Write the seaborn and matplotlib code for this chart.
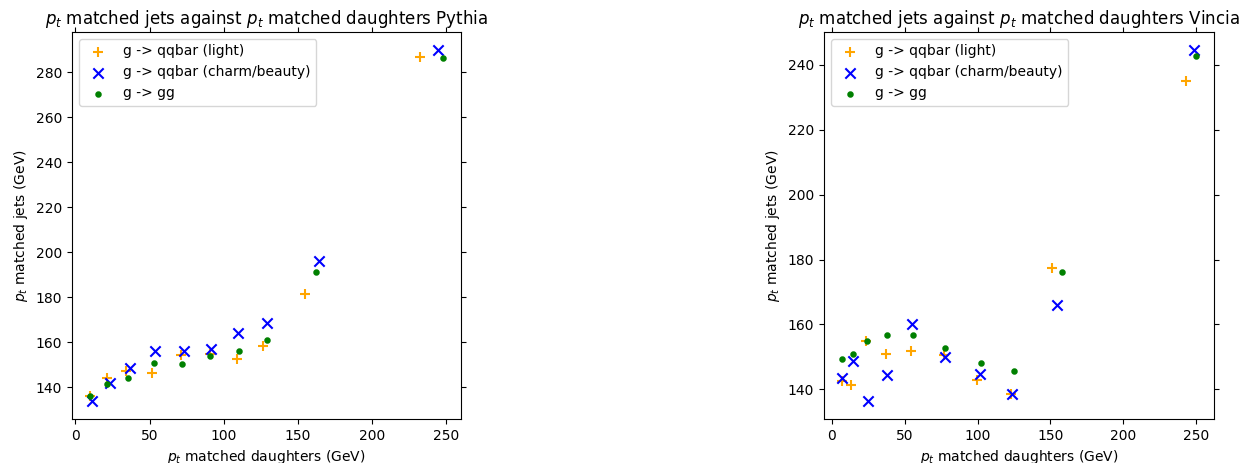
import matplotlib
matplotlib.use("Agg")
import matplotlib.pyplot as plt
import seaborn as sns
import pandas as pd

# Pythia: pt of matched daughters (x) vs pt of matched jets (y)
pythia_light_x = [9.6, 21.3, 34.3, 51.6, 71.3, 90.8, 109.0, 126.7, 155.1, 232.7]
pythia_light_y = [136.0, 144.2, 147.5, 146.4, 154.5, 155.0, 152.5, 158.2, 181.3, 286.7]
pythia_heavy_x = [11.2, 23.1, 37.0, 54.0, 73.5, 91.5, 109.4, 129.1, 164.3, 244.6]
pythia_heavy_y = [133.8, 141.8, 148.7, 156.4, 156.4, 157.2, 164.2, 168.6, 196.0, 290.1]
pythia_gg_x = [9.9, 21.5, 35.6, 52.7, 72.2, 91.0, 110.1, 129.1, 162.1, 248.2]
pythia_gg_y = [136.3, 141.5, 144.3, 150.7, 150.3, 153.9, 156.0, 161.0, 191.4, 286.4]

# Vincia
vincia_light_x = [6.9, 13.5, 23.3, 37.3, 54.2, 77.1, 99.5, 123.0, 151.4, 242.7]
vincia_light_y = [142.6, 141.3, 155.0, 150.8, 151.9, 150.5, 142.9, 138.6, 177.3, 235.0]
vincia_heavy_x = [7.3, 14.4, 24.9, 38.0, 55.3, 78.0, 101.5, 123.7, 154.6, 248.6]
vincia_heavy_y = [143.4, 148.6, 136.3, 144.3, 160.0, 150.1, 144.6, 138.5, 166.1, 244.7]
vincia_gg_x = [7.1, 14.4, 24.2, 38.0, 56.0, 78.0, 102.2, 125.1, 157.6, 250.0]
vincia_gg_y = [149.3, 150.9, 154.9, 156.8, 156.8, 152.8, 148.1, 145.7, 176.3, 242.6]

labels = ["g -> qqbar (light)", "g -> qqbar (charm/beauty)", "g -> gg"]
generators = ["Pythia", "Vincia"]

fig = plt.figure(figsize=(12.44, 4.63), dpi=100)
ax_left = fig.add_axes([72 / 1244, 1 - 419 / 463, 389 / 1244, 387 / 463])
ax_right = fig.add_axes([824 / 1244, 1 - 419 / 463, 390 / 1244, 387 / 463])

datasets = {
    "Pythia": [(pythia_light_x, pythia_light_y), (pythia_heavy_x, pythia_heavy_y),
               (pythia_gg_x, pythia_gg_y)],
    "Vincia": [(vincia_light_x, vincia_light_y), (vincia_heavy_x, vincia_heavy_y),
               (vincia_gg_x, vincia_gg_y)],
}

styles = [
    dict(marker="+", color="orange", s=55),
    dict(marker="x", color="blue", s=55),
    dict(marker=".", color="green", edgecolor="green", s=40),
]

for ax, gen in zip([ax_left, ax_right], generators):
    for (xs, ys), label, st in zip(datasets[gen], labels, styles):
        df = pd.DataFrame({"x": xs, "y": ys})
        sns.scatterplot(data=df, x="x", y="y", ax=ax, linewidth=1.5,
                        label=label, **st)
    ax.set_title(r"$p_t$ matched jets against $p_t$ matched daughters " + gen)
    ax.set_xlabel(r"$p_t$ matched daughters (GeV)")
    ax.set_ylabel(r"$p_t$ matched jets (GeV)")
    ax.tick_params(top=True, right=True)
    ax.set_xticks([0, 50, 100, 150, 200, 250])
    ax.legend(loc="upper left")

fig.savefig("out.png", dpi=100)
